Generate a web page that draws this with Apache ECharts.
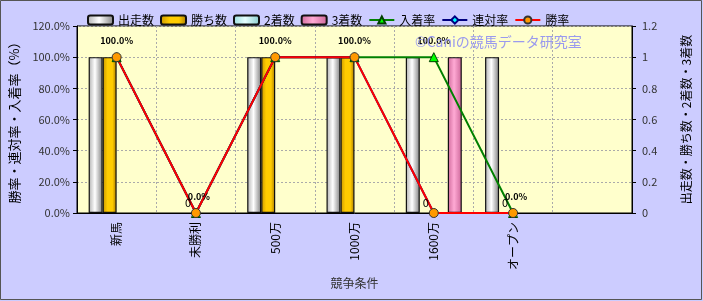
<!DOCTYPE html>
<html><head><meta charset="utf-8">
<script src="https://cdn.jsdelivr.net/npm/echarts@6/dist/echarts.min.js"></script>
<style>html,body{margin:0;padding:0;background:#ccccff;}#c{width:703px;height:301px;}</style>
</head><body><div id="c"></div>
<script>
const categories = ['新馬', '未勝利', '500万', '1000万', '1600万', 'オープン', ''];
const starts = [1, 0, 1, 1, 1, 1, null];
const wins = [1, 0, 1, 1, 0, 0, null];
const seconds = [0, 0, 0, 0, 0, 0, null];
const thirds = [0, 0, 0, 0, 1, 0, null];
const placeRate = [100, 0, 100, 100, 100, 0, null];
const rentaiRate = [100, 0, 100, 100, 0, 0, null];
const winRate = [100, 0, 100, 100, 0, 0, null];
const placeLabels = ['', '0.0%', '', '', '100.0%', '0.0%', ''];
const winLabels = ['100.0%', '0', '100.0%', '100.0%', '0', '0', ''];
const leftTicks = [0, 20, 40, 60, 80, 100, 120];
const rightTicks = [0, 0.2, 0.4, 0.6, 0.8, 1, 1.2];

const FONT = '"Noto Sans CJK JP", "Noto Sans", sans-serif';
function grad(stops) {
  return new echarts.graphic.LinearGradient(0, 0, 1, 0, stops.map((c) => ({offset: c[0], color: c[1]})));
}
function barSeries(name, data, color) {
  return {name, type: 'bar', yAxisIndex: 1, barWidth: 14, barGap: '0%',
    data: data.map(v => v === 0 ? {value: 0, itemStyle: {opacity: 0}} : v),
    itemStyle: {color, borderColor: '#111', borderWidth: 1.2}};
}
function labeled(values, texts, kind) {
  return values.map((v, i) => {
    const t = texts[i];
    if (!t) return v;
    const big = t === '0';
    return {value: v, label: {show: true, formatter: t, position: 'top',
      distance: big ? 0 : 7, offset: big ? [-8, 0] : (kind === 'p' && v === 0 ? [3, 0] : [0, 0]),
      fontSize: big ? 11 : 9, fontWeight: big ? 'normal' : 'bold', color: '#000', fontFamily: FONT}};
  });
}

const chart = echarts.init(document.getElementById('c'));
chart.setOption({
  animation: false,
  backgroundColor: '#ccccff',
  textStyle: {fontFamily: FONT},
  graphic: [
    {type: 'rect', shape: {x: 0.5, y: 0.5, width: 701, height: 299}, style: {fill: null, stroke: '#555', lineWidth: 1}, z: 100},
    {type: 'text', left: 415, top: 35, style: {text: '©Caniの競馬データ研究室', fill: '#9a9aee', font: '14px ' + FONT}, z: 50}
  ],
  legend: {
    left: 82, top: 9, itemWidth: 25, itemHeight: 9, itemGap: 6,
    textStyle: {fontSize: 12, color: '#000', fontFamily: FONT}
  },
  grid: {left: 77, right: 71, top: 26, bottom: 88, show: true, backgroundColor: '#ffffcc', borderColor: '#000', borderWidth: 1},
  xAxis: {
    type: 'category', data: categories,
    name: '競争条件', nameLocation: 'middle', nameGap: 44,
    nameTextStyle: {fontSize: 12, color: '#333', fontFamily: FONT},
    axisLine: {lineStyle: {color: '#000'}},
    axisTick: {show: false},
    axisLabel: {rotate: 90, margin: 9, fontSize: 12, color: '#000', interval: 0, fontFamily: FONT},
    splitLine: {show: true, lineStyle: {color: '#aaa', type: [2, 2]}}
  },
  yAxis: [
    {
      type: 'value', min: leftTicks[0], max: leftTicks[leftTicks.length - 1], interval: 20,
      name: '勝率・連対率・入着率（%）', nameLocation: 'middle', nameGap: 56, nameRotate: 90,
      nameTextStyle: {fontSize: 13, color: '#000', fontFamily: FONT},
      axisLine: {show: true, lineStyle: {color: '#000'}},
      axisTick: {show: true, length: 4, lineStyle: {color: '#000'}},
      axisLabel: {margin: 7, fontSize: 11, color: '#333', formatter: v => v.toFixed(1) + '%'},
      splitLine: {show: true, lineStyle: {color: '#aaa', type: [2, 2]}}
    },
    {
      type: 'value', min: rightTicks[0], max: rightTicks[rightTicks.length - 1], interval: 0.2,
      name: '出走数・勝ち数・2着数・3着数', nameLocation: 'middle', nameGap: 48, nameRotate: 90,
      nameTextStyle: {fontSize: 12, color: '#000', fontFamily: FONT, padding: [0, 0, 0, 0]},
      axisLine: {show: true, lineStyle: {color: '#000'}},
      axisTick: {show: true, length: 4, lineStyle: {color: '#000'}},
      axisLabel: {margin: 10, fontSize: 11, color: '#333', formatter: v => String(Math.round(v * 10) / 10)},
      splitLine: {show: false}
    }
  ],
  series: [
    barSeries('出走数', starts, grad([[0, '#b0b0b0'], [0.45, '#ffffff'], [1, '#808080']])),
    barSeries('勝ち数', wins, grad([[0, '#c89600'], [0.35, '#ffcc00'], [0.7, '#ffcc00'], [1, '#a87800']])),
    barSeries('2着数', seconds, grad([[0, '#99dddd'], [0.45, '#e6ffff'], [1, '#88cccc']])),
    barSeries('3着数', thirds, grad([[0, '#d06a9c'], [0.45, '#ffaad4'], [1, '#cc6699']])),
    {name: '入着率', type: 'line', yAxisIndex: 0, data: labeled(placeRate, placeLabels, 'p'),
      lineStyle: {color: '#008000', width: 2}, symbol: 'triangle', symbolSize: 9,
      itemStyle: {color: '#00ff00', borderColor: '#004000', borderWidth: 1}},
    {name: '連対率', type: 'line', yAxisIndex: 0, data: rentaiRate,
      lineStyle: {color: '#000080', width: 2}, symbol: 'diamond', symbolSize: 8,
      itemStyle: {color: '#00ffff', borderColor: '#000080', borderWidth: 1}},
    {name: '勝率', type: 'line', yAxisIndex: 0, data: labeled(winRate, winLabels, 'w'),
      lineStyle: {color: '#ff0000', width: 2}, symbol: 'circle', symbolSize: 9,
      itemStyle: {color: '#ff9900', borderColor: '#333', borderWidth: 1}}
  ]
});
</script></body></html>
